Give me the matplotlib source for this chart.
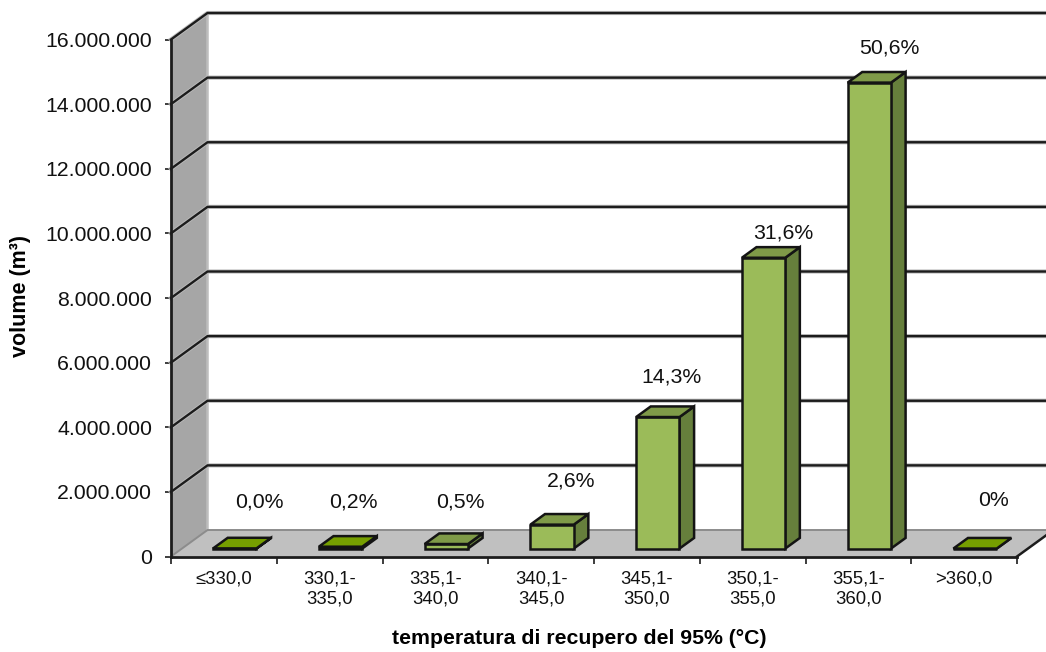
"""
Volume by 95% recovery temperature, drawn as a fake-3D bar chart.
"""
import matplotlib
matplotlib.use('Agg')
import matplotlib.pyplot as plt

plt.rcParams['font.family'] = ['Liberation Sans', 'DejaVu Sans']

categories = ['≤330,0', '330,1-\n335,0', '335,1-\n340,0', '340,1-\n345,0',
              '345,1-\n350,0', '350,1-\n355,0', '355,1-\n360,0', '>360,0']
volumes = [5000, 57000, 140000, 740000, 4070000, 9000000, 14420000, 0]
percent_labels = ['0,0%', '0,2%', '0,5%', '2,6%', '14,3%', '31,6%', '50,6%', '0%']
y_ticks = [0, 2000000, 4000000, 6000000, 8000000, 10000000, 12000000, 14000000, 16000000]

# label offset from the top of each bar, in pixels
label_offsets = [(36, 54), (24, 53), (25, 50), (30, 52), (25, 48), (31, 33), (31, 43), (29, 56)]

DEPTH_X = 0.345      # wall depth in category units
DEPTH_Y = 820000     # wall depth in volume units
BAR_START = 0.295
BAR_WIDTH = 0.41
BAR_FRONT = 0.30     # bar position within the depth
BAR_DEPTH = 0.40

FRONT = '#9BBB59'
TOP = '#7F9A48'
SIDE = '#667F3C'
FLAT = '#769F00'
LINE = '#1c1c1c'
EDGE = '#141414'
EDGE_W = 1.8


def fmt_volume(v):
    return f'{v:,}'.replace(',', '.')


fig = plt.figure(figsize=(10.46, 6.52), dpi=100)
ax = fig.add_axes([171 / 1046, 1 - 556.5 / 652, 846 / 1046, 517 / 652])
ax.set_xlim(0, len(categories))
ax.set_ylim(0, y_ticks[-1])
ax.patch.set_visible(False)

n = len(categories)
top = y_ticks[-1]

# side wall and floor
ax.fill([0, DEPTH_X, DEPTH_X, 0], [0, DEPTH_Y, top + DEPTH_Y, top],
        color='#A6A6A6', lw=0, clip_on=False, zorder=1)
ax.fill([0, DEPTH_X, n + DEPTH_X, n], [0, DEPTH_Y, DEPTH_Y, 0],
        color='#C0C0C0', lw=0, clip_on=False, zorder=1)
ax.plot([DEPTH_X, DEPTH_X], [0 + DEPTH_Y, top + DEPTH_Y], color='#BDBDBD', lw=1.8,
        clip_on=False, zorder=1.5)

# gridlines run along the side wall, then across the back
for v in y_ticks:
    xs = [0, DEPTH_X, n + DEPTH_X]
    ys = [v, v + DEPTH_Y, v + DEPTH_Y]
    if v == 0:
        ax.plot(xs, ys, color='#8C8C8C', lw=1.4, clip_on=False, zorder=2)
    else:
        ax.plot(xs, ys, color='#BBBBBB', lw=3.0, clip_on=False, zorder=2)
        ax.plot(xs, ys, color=LINE, lw=1.7, clip_on=False, zorder=2.1)

ax.plot([n, n + DEPTH_X], [0, DEPTH_Y], color=LINE, lw=1.8, clip_on=False, zorder=2.1)

# bars
x_pos = [i + BAR_START + BAR_FRONT * DEPTH_X for i in range(n)]
base = BAR_FRONT * DEPTH_Y
dx = BAR_DEPTH * DEPTH_X
dy = BAR_DEPTH * DEPTH_Y
ax.bar(x_pos, volumes, width=BAR_WIDTH, bottom=base, align='edge', color=FRONT,
       edgecolor=EDGE, linewidth=EDGE_W, clip_on=False, zorder=5)
for x, v in zip(x_pos, volumes):
    h = base + v
    r = x + BAR_WIDTH
    top_color = FLAT if v < 100000 else TOP
    ax.fill([x, x + dx, r + dx, r], [h, h + dy, h + dy, h], facecolor=top_color,
            edgecolor=EDGE, linewidth=EDGE_W, clip_on=False, zorder=6)
    ax.fill([r, r + dx, r + dx, r], [base, base + dy, h + dy, h], facecolor=SIDE,
            edgecolor=EDGE, linewidth=EDGE_W, clip_on=False, zorder=4)

for i, (v, lab, off) in enumerate(zip(volumes, percent_labels, label_offsets)):
    ax.annotate(lab, (i + 0.5, v), xytext=off, textcoords='offset pixels',
                ha='center', va='center', fontsize=15.3, color='#111111',
                annotation_clip=False, zorder=8)

# axes
for name in ['top', 'right']:
    ax.spines[name].set_visible(False)
for name in ['left', 'bottom']:
    ax.spines[name].set_linewidth(2.0)
    ax.spines[name].set_color(LINE)
    ax.spines[name].set_zorder(3)

ax.set_yticks(y_ticks)
ax.set_yticklabels([fmt_volume(v) for v in y_ticks])
ax.tick_params(axis='y', length=4.5, width=1.2, color=LINE, labelsize=15.3, pad=9, labelcolor='#111111')

ax.set_xticks(range(n + 1))
ax.set_xticklabels([])
ax.set_xticks([i + 0.5 for i in range(n)], minor=True)
ax.set_xticklabels(categories, minor=True, fontsize=13.3, color='#111111', linespacing=1.25)
ax.tick_params(axis='x', which='major', length=5, width=1.2, color=LINE)
ax.tick_params(axis='x', which='minor', length=0, pad=10)

ax.set_xlabel('temperatura di recupero del 95% (°C)', fontsize=15.3, fontweight='bold', va='center')
ax.xaxis.set_label_coords((579 - 171) / 846, (556.5 - 638) / 517)
ax.set_ylabel('volume (m³)', fontsize=15.5, fontweight='bold', va='center')
ax.yaxis.set_label_coords((21 - 171) / 846, (556.5 - 296) / 517)

plt.savefig('out.png', dpi=100)
plt.close(fig)
